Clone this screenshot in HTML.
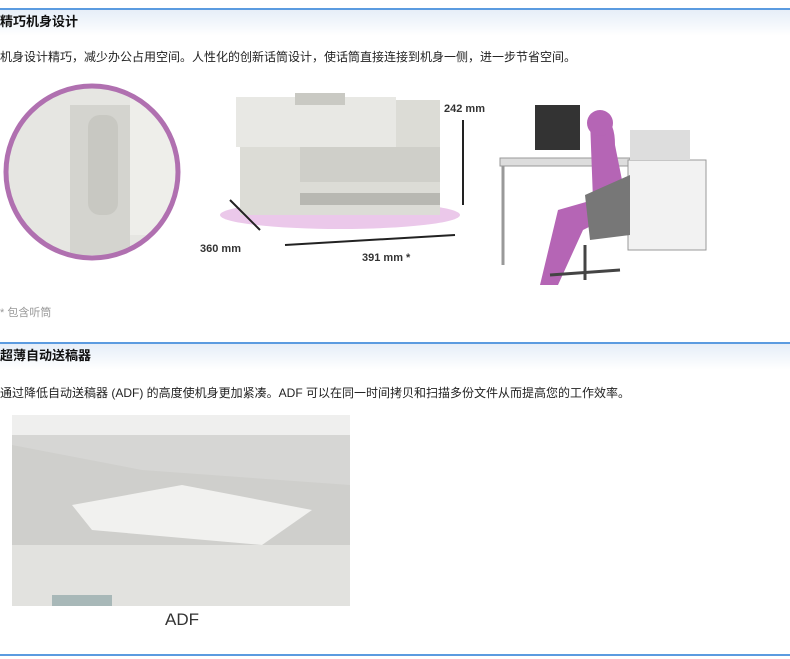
<!DOCTYPE html>
<html><head><meta charset="utf-8"><style>
body{margin:0;width:790px;height:659px;background:#fff;position:relative;overflow:hidden;font-family:"Liberation Sans","Noto Sans CJK SC",sans-serif;font-size:12px;color:#222}
.a{position:absolute}
.hd{position:absolute;left:0;width:790px;height:26px;border-top:2px solid #5b9be0;background:linear-gradient(#e6eef8,#fff);font-weight:bold;font-size:13px;line-height:24px;color:#111}
</style></head><body>
<div class="hd" style="top:8px">精巧机身设计</div>
<div class="a" style="top:48px;left:0">机身设计精巧，减少办公占用空间。人性化的创新话筒设计，使话筒直接连接到机身一侧，进一步节省空间。</div>
<svg class="a" style="left:0;top:75px" width="790" height="230">
<defs><clipPath id="c"><circle cx="92" cy="97" r="86"/></clipPath></defs>
<g clip-path="url(#c)">
<rect x="0" y="0" width="200" height="200" fill="#e6e6e2"/>
<rect x="70" y="30" width="60" height="150" fill="#d4d4cf"/>
<rect x="130" y="20" width="60" height="140" fill="#eeeeea"/>
<rect x="88" y="40" width="30" height="100" rx="12" fill="#c8c8c2"/>
</g>
<circle cx="92" cy="97" r="86" fill="none" stroke="#b070b0" stroke-width="5"/>
<ellipse cx="340" cy="140" rx="120" ry="14" fill="#ebc8ea"/>
<rect x="240" y="25" width="200" height="115" fill="#dcdcd6"/>
<rect x="236" y="22" width="160" height="50" fill="#e8e8e4"/>
<rect x="295" y="18" width="50" height="12" fill="#c9c9c3"/>
<rect x="300" y="72" width="140" height="35" fill="#cfcfc9"/>
<rect x="300" y="118" width="140" height="12" fill="#b8b8b2"/>
<line x1="463" y1="45" x2="463" y2="130" stroke="#222" stroke-width="2"/>
<line x1="285" y1="170" x2="455" y2="160" stroke="#222" stroke-width="2"/>
<line x1="230" y1="125" x2="260" y2="155" stroke="#222" stroke-width="2"/>
<text x="444" y="37" font-size="11" font-weight="bold" fill="#333">242 mm</text>
<text x="200" y="177" font-size="11" font-weight="bold" fill="#333">360 mm</text>
<text x="362" y="186" font-size="11" font-weight="bold" fill="#333">391 mm *</text>
<rect x="500" y="83" width="130" height="8" fill="#ddd" stroke="#999"/>
<line x1="503" y1="91" x2="503" y2="190" stroke="#999" stroke-width="3"/>
<rect x="535" y="30" width="45" height="45" fill="#333"/>
<rect x="628" y="85" width="78" height="90" fill="#f2f2f2" stroke="#999"/>
<rect x="630" y="55" width="60" height="30" fill="#ddd"/>
<path d="M590 45 q25 -10 25 25 l8 40 l-10 30 l-30 15 l-25 55 l-18 0 l18 -75 l35 -10 z" fill="#b565b5"/>
<circle cx="600" cy="48" r="13" fill="#b565b5"/>
<path d="M585 120 l45 -20 l0 60 l-40 5z" fill="#777"/>
<line x1="585" y1="170" x2="585" y2="205" stroke="#444" stroke-width="3"/>
<line x1="550" y1="200" x2="620" y2="195" stroke="#444" stroke-width="3"/>
</svg>
<div class="a" style="top:304px;left:0;color:#999;font-size:11px">* 包含听筒</div>
<div class="hd" style="top:342px">超薄自动送稿器</div>
<div class="a" style="top:384px;left:0">通过降低自动送稿器 (ADF) 的高度使机身更加紧凑。ADF 可以在同一时间拷贝和扫描多份文件从而提高您的工作效率。</div>
<svg class="a" style="left:12px;top:415px" width="338" height="191">
<rect width="338" height="191" rx="6" fill="#d6d6d4"/>
<rect y="0" width="338" height="20" fill="#efefee"/>
<path d="M0 30 L130 55 L338 70 L338 191 L0 191Z" fill="#cfcfcc"/>
<path d="M60 90 L170 70 L300 95 L250 130 L80 115Z" fill="#f1f1ef"/>
<rect x="0" y="130" width="338" height="61" fill="#e2e2df"/>
<rect x="40" y="180" width="60" height="11" fill="#a8b8b8"/>
</svg>
<div class="a" style="top:610px;left:165px;font-size:17px;color:#333">ADF</div>
<div class="a" style="top:654px;left:0;width:790px;height:2px;background:#5b9be0"></div>
</body></html>
